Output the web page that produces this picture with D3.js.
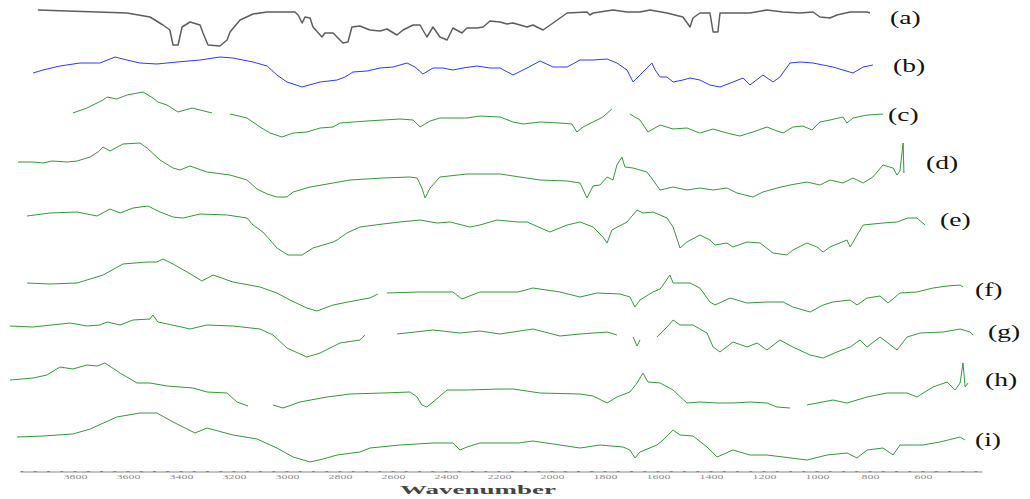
<!DOCTYPE html>
<html>
<head>
<meta charset="utf-8">
<script src="https://cdn.jsdelivr.net/npm/d3@7"></script>
<style>
  body { margin: 0; background: #fff; }
  svg { display: block; }
</style>
</head>
<body>
<svg id="chart" width="1030" height="499"></svg>
<script>
// spectra: [wavenumber (cm-1), relative transmittance], null = gap in trace
var specA = [[3940,40],[3604,37],[3517,33],[3468,25],[3442,20],[3430,5],[3411,5],[3396,23],[3366,28],[3328,25],[3317,17],[3298,5],[3253,4],[3226,10],[3215,18],[3177,30],[3128,36],[3075,38],[2970,38],[2958,35],[2943,27],[2932,33],[2913,32],[2902,23],[2868,13],[2857,17],[2826,17],[2789,7],[2770,8],[2755,23],[2725,24],[2687,20],[2649,19],[2623,21],[2585,15],[2562,20],[2524,25],[2498,25],[2472,13],[2449,23],[2423,13],[2396,10],[2374,22],[2340,17],[2321,22],[2283,22],[2260,23],[2234,29],[2196,28],[2170,26],[2147,27],[2094,23],[2072,25],[2034,20],[1996,27],[1943,37],[1868,38],[1857,35],[1845,37],[1770,40],[1717,38],[1668,38],[1630,40],[1566,37],[1506,33],[1479,23],[1468,32],[1442,37],[1404,37],[1392,18],[1374,18],[1366,37],[1317,37],[1253,37],[1189,40],[1128,38],[1064,37],[1015,38],[989,33],[951,32],[925,35],[875,38],[811,38],[800,37]];
var specB = [[3958,17],[3921,20],[3857,24],[3781,27],[3743,27],[3706,27],[3649,33],[3604,30],[3555,27],[3491,26],[3415,28],[3328,30],[3253,33],[3204,32],[3128,28],[3075,24],[3038,15],[3000,8],[2943,3],[2875,8],[2811,10],[2781,13],[2751,18],[2698,19],[2649,22],[2600,23],[2547,27],[2517,23],[2487,16],[2449,22],[2411,22],[2374,20],[2336,22],[2283,24],[2234,22],[2196,22],[2147,15],[2094,22],[2045,29],[1996,23],[1943,23],[1894,30],[1845,30],[1792,31],[1755,27],[1717,20],[1694,8],[1668,15],[1642,22],[1623,27],[1611,20],[1592,13],[1566,13],[1543,8],[1506,10],[1479,12],[1442,10],[1404,5],[1366,3],[1317,8],[1279,12],[1253,5],[1204,15],[1166,8],[1140,13],[1102,27],[1064,28],[1015,27],[940,23],[902,20],[864,17],[826,23],[789,25]];
var specC = [[3808,27],[3755,32],[3694,40],[3679,43],[3642,41],[3604,45],[3543,48],[3506,42],[3487,38],[3453,35],[3411,28],[3358,32],[3283,27],[3270,null],[3215,26],[3151,22],[3102,13],[3064,7],[3019,3],[2977,7],[2925,8],[2875,12],[2826,13],[2800,17],[2698,19],[2574,21],[2524,20],[2498,13],[2460,19],[2423,22],[2321,22],[2272,24],[2196,23],[2147,18],[2109,16],[2045,18],[1970,17],[1925,16],[1906,8],[1883,13],[1830,20],[1808,23],[1774,31],[1760,null],[1706,26],[1668,20],[1638,8],[1592,15],[1543,11],[1491,12],[1442,7],[1392,11],[1340,7],[1291,4],[1242,8],[1189,13],[1151,9],[1128,7],[1091,13],[1053,14],[1019,10],[989,18],[951,20],[902,23],[887,17],[864,22],[811,25],[751,26]];
var specD = [[4015,38],[3958,38],[3921,37],[3887,39],[3830,38],[3792,39],[3743,43],[3713,48],[3694,53],[3668,49],[3619,56],[3555,57],[3528,52],[3479,40],[3430,32],[3404,30],[3366,34],[3302,28],[3215,25],[3151,20],[3113,11],[3075,6],[3038,3],[3000,3],[2977,8],[2913,13],[2826,17],[2762,20],[2638,22],[2536,23],[2509,22],[2491,12],[2479,2],[2460,12],[2423,23],[2321,26],[2196,26],[2121,23],[2045,20],[1943,19],[1894,17],[1868,2],[1845,14],[1819,15],[1792,23],[1770,20],[1755,35],[1736,43],[1725,33],[1694,32],[1642,28],[1619,20],[1592,10],[1543,13],[1491,10],[1442,12],[1392,10],[1340,12],[1302,7],[1242,3],[1204,8],[1151,12],[1102,15],[1038,18],[989,15],[951,20],[902,17],[864,22],[826,17],[789,23],[751,35],[713,32],[698,25],[687,29],[675,57],[672,27]];
var specE = [[3981,44],[3894,47],[3792,48],[3717,44],[3668,51],[3630,47],[3581,52],[3525,54],[3479,48],[3430,43],[3392,42],[3328,46],[3226,45],[3151,42],[3128,35],[3091,28],[3064,20],[3038,12],[2996,5],[2943,5],[2902,12],[2826,18],[2811,20],[2774,27],[2725,33],[2638,36],[2574,38],[2498,40],[2434,37],[2385,38],[2309,33],[2272,35],[2208,40],[2128,38],[2094,38],[2008,28],[1943,35],[1894,38],[1845,33],[1808,23],[1792,17],[1774,30],[1717,38],[1679,50],[1657,47],[1619,48],[1566,42],[1543,33],[1517,12],[1491,18],[1442,25],[1404,20],[1385,15],[1340,17],[1317,13],[1264,18],[1215,17],[1166,7],[1113,5],[1091,10],[1038,17],[1000,13],[977,8],[951,13],[887,20],[875,13],[826,35],[751,37],[698,38],[657,42],[623,42],[592,35]];
var specF = [[3981,32],[3894,31],[3792,32],[3743,36],[3694,40],[3619,51],[3528,53],[3491,53],[3468,56],[3430,51],[3377,43],[3321,34],[3279,40],[3204,33],[3102,28],[3038,22],[2989,15],[2925,7],[2887,4],[2826,10],[2751,14],[2687,17],[2657,21],[2640,null],[2623,22],[2509,23],[2374,23],[2340,16],[2321,18],[2272,23],[2128,23],[2072,27],[1970,23],[1894,18],[1830,22],[1743,21],[1706,18],[1687,8],[1668,15],[1619,23],[1592,26],[1581,30],[1555,40],[1543,32],[1479,32],[1442,27],[1404,13],[1385,10],[1328,17],[1264,12],[1189,13],[1128,13],[1091,8],[1026,3],[977,10],[940,13],[875,15],[849,10],[811,17],[762,19],[732,12],[687,22],[623,23],[562,27],[509,29],[460,30],[449,28]];
var specG = [[4045,34],[3958,33],[3819,37],[3755,34],[3706,35],[3679,38],[3630,35],[3581,40],[3517,41],[3506,45],[3487,38],[3415,34],[3366,31],[3302,35],[3204,34],[3102,31],[3053,25],[3000,12],[2925,3],[2875,7],[2800,17],[2725,20],[2706,25],[2660,null],[2585,26],[2449,30],[2347,27],[2272,29],[2196,26],[2072,31],[1970,24],[1894,26],[1792,28],[1755,25],[1740,null],[1694,23],[1679,14],[1668,20],[1660,null],[1604,23],[1566,33],[1543,40],[1517,35],[1468,35],[1415,27],[1392,13],[1366,8],[1317,18],[1264,13],[1226,17],[1189,10],[1140,20],[1091,13],[1026,5],[977,2],[925,8],[875,13],[838,20],[811,13],[762,23],[698,10],[660,23],[611,27],[524,28],[460,31],[423,28],[411,25]];
var specH = [[4045,30],[3958,32],[3906,35],[3857,43],[3808,41],[3755,45],[3717,44],[3687,47],[3630,37],[3566,27],[3517,27],[3453,24],[3355,22],[3302,18],[3226,17],[3189,8],[3147,4],[3120,null],[3053,5],[3015,2],[2951,8],[2849,13],[2762,16],[2638,17],[2536,18],[2509,13],[2491,5],[2472,3],[2449,8],[2396,20],[2321,20],[2196,21],[2147,21],[2045,17],[1894,16],[1845,14],[1792,7],[1755,13],[1706,18],[1679,27],[1657,37],[1638,28],[1592,27],[1543,20],[1491,7],[1442,8],[1377,7],[1317,7],[1253,8],[1189,7],[1151,3],[1102,2],[1080,null],[1038,5],[940,10],[887,7],[811,13],[736,17],[660,17],[623,13],[562,23],[509,28],[479,20],[460,27],[449,47],[441,23],[430,27]];
var specI = [[4019,28],[3921,29],[3808,31],[3743,36],[3642,48],[3555,52],[3491,52],[3430,43],[3347,32],[3302,37],[3204,30],[3113,26],[3038,17],[2977,8],[2913,3],[2864,6],[2811,10],[2725,13],[2687,17],[2574,20],[2449,22],[2374,22],[2347,15],[2321,18],[2272,22],[2128,22],[2072,24],[1970,20],[1894,17],[1819,20],[1732,18],[1706,15],[1687,7],[1668,13],[1604,20],[1581,25],[1543,35],[1517,30],[1468,29],[1415,18],[1377,8],[1317,15],[1253,10],[1189,10],[1128,8],[1038,5],[962,10],[887,12],[849,7],[811,15],[751,17],[713,10],[687,20],[600,20],[536,23],[460,28],[441,25]];

var sampleNames = ['(a)', '(b)', '(c)', '(d)', '(e)', '(f)', '(g)', '(h)', '(i)'];
var sampleData = [specA, specB, specC, specD, specE, specF, specG, specH, specI];
// vertical stacking offset of each spectrum (arbitrary units)
var stackOffsets = [420, 380, 330, 270, 210, 155, 110, 60, 5];
var tickValues = [3800, 3600, 3400, 3200, 3000, 2800, 2600, 2400, 2200, 2000, 1800, 1600, 1400, 1200, 1000, 800, 600];
var xTitle = 'Wavenumber';

// layout
var lineColors = ['#5e5e5e', '#2b3cf0', '#33993a', '#33993a', '#33993a', '#33993a', '#33993a', '#33993a', '#33993a'];
var lineWidths = [1.5, 1, 1, 1, 1, 1, 1, 1, 1];
var labelPos = [[890, 18], [893, 66], [888, 115], [926, 163], [940, 220], [975, 290], [988, 332], [985, 380], [975, 440]];
var axisY = 472;

var svg = d3.select('#chart');

var xScale = d3.scaleLinear().domain([4000, 400]).range([22, 976]);
var yScale = d3.scaleLinear().domain([0, 470]).range([470, 0]);

// spectra
sampleData.forEach(function(spec, i) {
    var line = d3.line()
        .defined(function(d) { return d[1] !== null; })
        .x(function(d) { return xScale(d[0]); })
        .y(function(d) { return yScale(stackOffsets[i] + d[1]); });

    svg.append('path')
        .datum(spec)
        .attr('class', 'spectrum')
        .attr('d', line)
        .style('fill', 'none')
        .style('stroke', lineColors[i])
        .style('stroke-width', lineWidths[i])
        .style('stroke-linejoin', 'round');
});

// sample labels
svg.selectAll('.sample-label')
    .data(sampleNames)
    .enter()
    .append('text')
    .attr('class', 'sample-label')
    .attr('transform', function(d, i) { return 'translate(' + labelPos[i][0] + ',' + labelPos[i][1] + ') scale(1.45,1)'; })
    .attr('dominant-baseline', 'central')
    .style('font-family', '"Liberation Serif", "DejaVu Serif", serif')
    .style('font-size', '19px')
    .style('fill', '#111')
    .text(function(d) { return d; });

// x axis
svg.append('line')
    .attr('x1', xScale(4005)).attr('x2', xScale(375))
    .attr('y1', axisY).attr('y2', axisY)
    .style('stroke', '#c4c4c4')
    .style('stroke-width', 2);

var minorTicks = d3.range(4000, 399, -50);
svg.selectAll('.minor-tick')
    .data(minorTicks)
    .enter()
    .append('line')
    .attr('class', 'minor-tick')
    .attr('x1', function(d) { return xScale(d) - 1.5; })
    .attr('x2', function(d) { return xScale(d) + 1.5; })
    .attr('y1', axisY - 0.5).attr('y2', axisY - 0.5)
    .style('stroke', '#e06060')
    .style('stroke-width', 1);

var xAxis = d3.axisBottom(xScale).tickValues(tickValues).tickFormat(d3.format('d')).tickSize(0).tickPadding(5);
var gX = svg.append('g')
    .attr('class', 'x axis')
    .attr('transform', 'translate(0,' + axisY + ')')
    .call(xAxis);
gX.select('.domain').remove();
gX.selectAll('text')
    .attr('transform', 'scale(1.7,0.75)')
    .style('font-family', '"Liberation Serif", serif')
    .style('font-size', '7px')
    .style('fill', '#8a8a8a');

svg.append('text')
    .attr('class', 'label')
    .attr('x', 400)
    .attr('y', 494)
    .attr('textLength', 156)
    .attr('lengthAdjust', 'spacingAndGlyphs')
    .style('font-family', '"Liberation Serif", serif')
    .style('font-weight', 'bold')
    .style('font-size', '12px')
    .style('fill', '#444')
    .text(xTitle);
</script>
</body>
</html>
